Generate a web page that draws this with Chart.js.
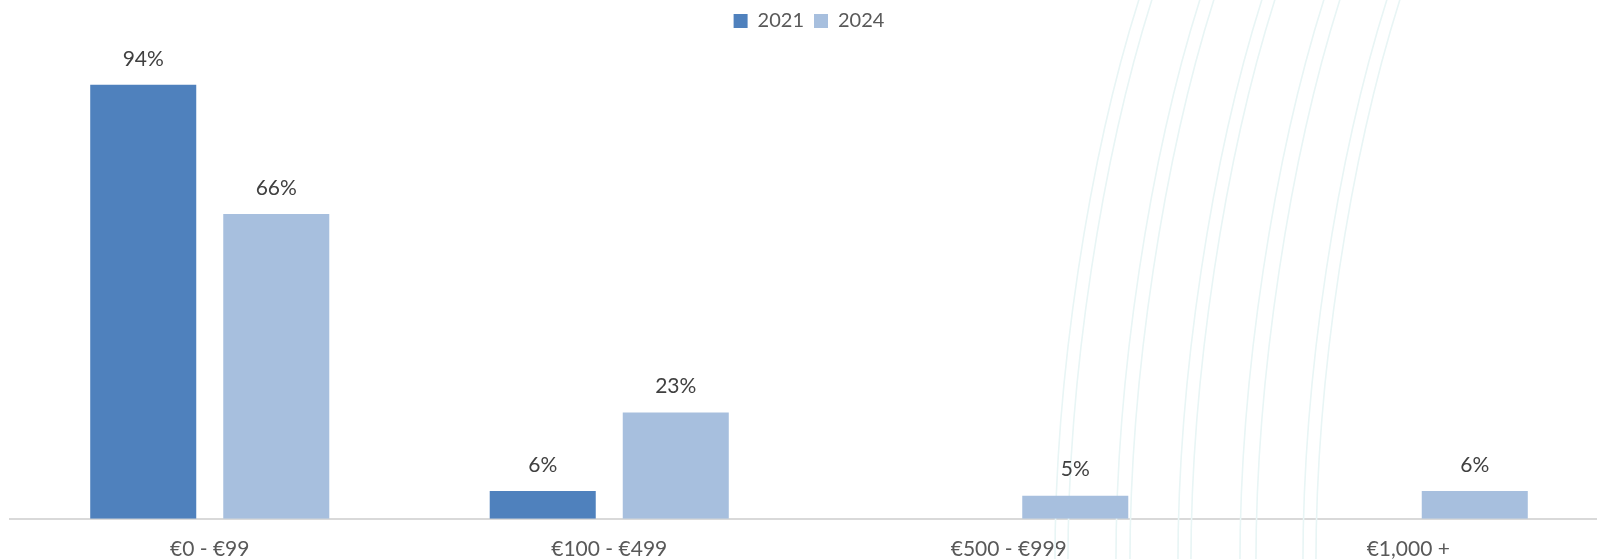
<!DOCTYPE html>
<html>
<head>
<meta charset="utf-8">
<title>Spend by band, 2021 vs 2024</title>
<script src="https://cdn.jsdelivr.net/npm/chart.js@4.4.1/dist/chart.umd.min.js"></script>
<style>
    html, body { margin: 0; padding: 0; background: #ffffff; overflow: hidden; }
    canvas { display: block; }
</style>
</head>
<body>
<canvas id="spendChart" width="1610" height="580"></canvas>
<script>
// Share of respondents per spend band
const bands = ['€0 - €99', '€100 - €499', '€500 - €999', '€1,000 +'];
const share2021 = [94, 6, 0, 0];
const share2024 = [66, 23, 5, 6];

const color2021 = '#4F81BD';
const color2024 = '#A7BFDE';
const fontFamily = 'Lato, "Liberation Sans", sans-serif';

// Faint wave lines behind the bars
const waveLines = {
    id: 'waveLines',
    beforeDatasetsDraw(chart) {
        const ctx = chart.ctx;
        const tops = [1138, 1151, 1199, 1213, 1261, 1274, 1323, 1339, 1386, 1399];
        ctx.save();
        ctx.strokeStyle = '#E8F5F5';
        ctx.lineWidth = 1.6;
        tops.forEach(x => {
            ctx.beginPath();
            ctx.moveTo(x + 4, -10);
            ctx.bezierCurveTo(x - 48, 150, x - 85, 380, x - 83, 580);
            ctx.stroke();
        });
        ctx.restore();
    }
};

// Percent labels above each non-empty bar
const barLabels = {
    id: 'barLabels',
    afterDatasetsDraw(chart) {
        const ctx = chart.ctx;
        ctx.save();
        ctx.font = '21px ' + fontFamily;
        ctx.fillStyle = '#404040';
        ctx.textAlign = 'center';
        ctx.textBaseline = 'middle';
        chart.data.datasets.forEach((ds, i) => {
            chart.getDatasetMeta(i).data.forEach((bar, j) => {
                if (!ds.data[j]) return;
                ctx.fillText(ds.data[j] + '%', bar.x, bar.y - 26);
            });
        });
        ctx.restore();
    }
};

new Chart(document.getElementById('spendChart'), {
    type: 'bar',
    data: {
        labels: bands,
        datasets: [
            { label: '2021', data: share2021, backgroundColor: color2021 },
            { label: '2024', data: share2024, backgroundColor: color2024 }
        ]
    },
    options: {
        responsive: false,
        animation: false,
        layout: { padding: { left: 10, right: 2, top: 1, bottom: 0 } },
        datasets: {
            bar: { barPercentage: 0.797, categoryPercentage: 0.666 }
        },
        plugins: {
            legend: {
                position: 'top',
                labels: {
                    boxWidth: 14,
                    boxHeight: 14,
                    padding: 10,
                    color: '#595959',
                    font: { family: fontFamily, size: 20 }
                }
            },
            tooltip: { enabled: false }
        },
        scales: {
            x: {
                grid: { display: false, drawTicks: false },
                border: { display: true, color: '#D9D9D9', width: 2 },
                ticks: {
                    color: '#595959',
                    padding: 18,
                    font: { family: fontFamily, size: 21 }
                }
            },
            y: {
                display: false,
                min: 0,
                max: 103.5
            }
        }
    },
    plugins: [waveLines, barLabels]
});
</script>
</body>
</html>
